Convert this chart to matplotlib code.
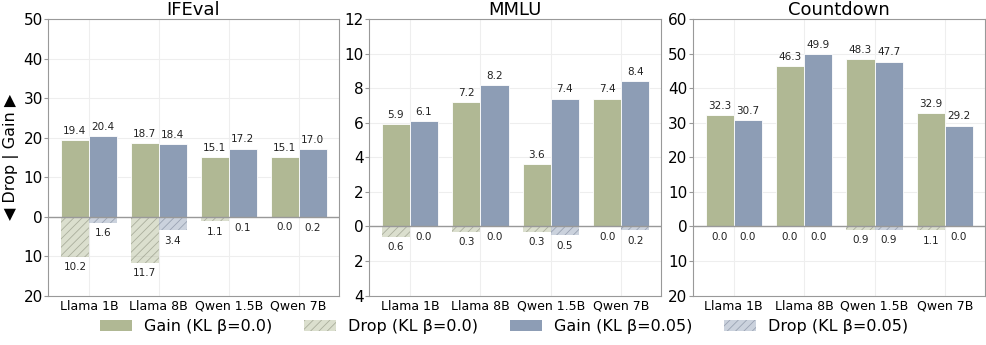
import matplotlib.pyplot as plt
import matplotlib as mpl
import numpy as np
from matplotlib.patches import Patch

mpl.rcParams['hatch.linewidth'] = 0.6

models = ["Llama 1B", "Llama 8B", "Qwen 1.5B", "Qwen 7B"]
titles = ["IFEval", "MMLU", "Countdown"]

# gains / drops per benchmark, beta = 0.0 and beta = 0.05
gain_b0 = [[19.4, 18.7, 15.1, 15.1], [5.9, 7.2, 3.6, 7.4], [32.3, 46.3, 48.3, 32.9]]
gain_b05 = [[20.4, 18.4, 17.2, 17.0], [6.1, 8.2, 7.4, 8.4], [30.7, 49.9, 47.7, 29.2]]
drop_b0 = [[10.2, 11.7, 1.1, 0.0], [0.6, 0.3, 0.3, 0.0], [0.0, 0.0, 0.9, 1.1]]
drop_b05 = [[1.6, 3.4, 0.1, 0.2], [0.0, 0.0, 0.5, 0.2], [0.0, 0.0, 0.9, 0.0]]

y_ranges = [(-20, 50, 10), (-4, 12, 2), (-20, 60, 10)]

c0 = "#b0b894"
c05 = "#8d9db5"

fig = plt.figure(figsize=(9.87, 3.45), dpi=100)
boxes = [[0.049, 0.143, 0.294, 0.802], [0.374, 0.143, 0.296, 0.802], [0.702, 0.143, 0.296, 0.802]]

x = np.arange(len(models))
w = 0.4

for k in range(3):
    ax = fig.add_axes(boxes[k])
    g0 = np.array(gain_b0[k])
    g5 = np.array(gain_b05[k])
    d0 = np.array(drop_b0[k])
    d5 = np.array(drop_b05[k])

    ax.bar(x - w/2, g0, w, color=c0, edgecolor="white", linewidth=0.6, zorder=3)
    ax.bar(x + w/2, g5, w, color=c05, edgecolor="white", linewidth=0.6, zorder=3)
    ax.bar(x - w/2, -d0, w, color=c0, alpha=0.45, hatch="////", edgecolor="#6f735f", linewidth=0, zorder=3)
    ax.bar(x + w/2, -d5, w, color=c05, alpha=0.45, hatch="////", edgecolor="#5f6a80", linewidth=0, zorder=3)

    # value labels
    for i in range(len(models)):
        for xx, g, d in [(x[i] - w/2, g0[i], d0[i]), (x[i] + w/2, g5[i], d5[i])]:
            ax.annotate(f"{g:.1f}", (xx, g), xytext=(0, 3), textcoords="offset points",
                        ha="center", va="bottom", fontsize=7.5, color="#222222")
            ax.annotate(f"{d:.1f}", (xx, -d), xytext=(0, -4), textcoords="offset points",
                        ha="center", va="top", fontsize=7.5, color="#222222")

    ax.axhline(0, color="#999999", linewidth=1, zorder=4)
    lo, hi, step = y_ranges[k]
    ax.set_ylim(lo, hi)
    ticks = np.arange(lo, hi + step, step)
    ax.set_yticks(ticks)
    ax.set_yticklabels([f"{abs(t):g}" for t in ticks], fontsize=11)
    ax.set_xlim(-0.58, 3.57)
    ax.set_xticks(x)
    ax.set_xticklabels(models, fontsize=9)
    ax.tick_params(axis="y", length=3, width=0.8, color="#999999", pad=1)
    ax.tick_params(axis="x", length=0, pad=3)
    ax.grid(True, color="#eeeeee", linewidth=0.8, zorder=0)
    for s in ax.spines.values():
        s.set_color("#999999")
    ax.set_title(titles[k], fontsize=13, pad=1.5)
    if k == 0:
        ax.set_ylabel("\u25c0 Drop | Gain \u25b6", fontsize=11.5, labelpad=3)

handles = [
    Patch(facecolor=c0, label="Gain (KL \u03b2=0.0)"),
    Patch(facecolor=c0, alpha=0.45, hatch="////", edgecolor="#6f735f", linewidth=0, label="Drop (KL \u03b2=0.0)"),
    Patch(facecolor=c05, label="Gain (KL \u03b2=0.05)"),
    Patch(facecolor=c05, alpha=0.45, hatch="////", edgecolor="#5f6a80", linewidth=0, label="Drop (KL \u03b2=0.05)"),
]
fig.legend(handles=handles, loc="lower center", ncol=4, frameon=False, fontsize=11.5,
           bbox_to_anchor=(0.511, -0.01), handlelength=2.0, handletextpad=0.75, columnspacing=2.0)

plt.savefig("out.png", dpi=100)
